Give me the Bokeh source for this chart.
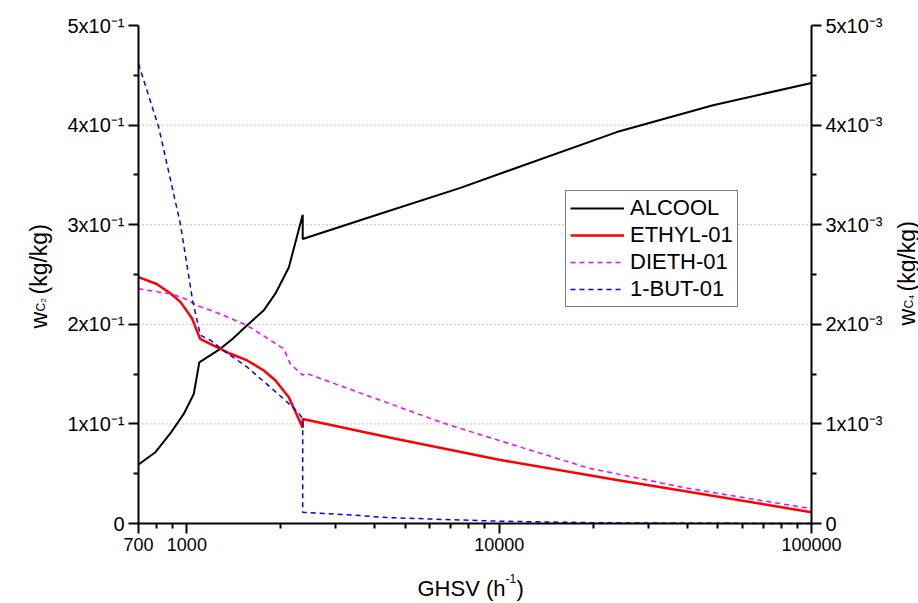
import math
from bokeh.plotting import figure
from bokeh.models import Range1d, LinearAxis, FixedTicker, Legend, LegendItem, Label
from bokeh.embed import file_html
from bokeh.resources import INLINE

# ---------------- data ----------------
ghsv_alcool = [700, 793, 885, 977, 1052, 1096, 1279, 1396, 1560, 1763, 1922, 2120, 2349, 2349, 4160, 7515, 23800, 48400, 100000]
w_alcool = [0.0592, 0.0716, 0.0904, 0.110, 0.130, 0.1617, 0.1754, 0.185, 0.199, 0.214, 0.231, 0.257, 0.310, 0.2857, 0.311, 0.337, 0.393, 0.420, 0.4423]

ghsv_ethyl = [700, 800, 885, 953, 989, 1040, 1102, 1379, 1560, 1763, 1922, 2120, 2349, 2349, 4571, 10000, 23560, 100000]
w_ethyl = [0.2473, 0.2405, 0.2312, 0.2225, 0.2155, 0.2055, 0.1854, 0.1704, 0.1637, 0.1536, 0.1436, 0.1268, 0.0961, 0.105, 0.0855, 0.064, 0.044, 0.0113]

ghsv_dieth = [700, 885, 989, 1078, 1197, 1315, 1560, 2043, 2142, 2349, 2400, 4140, 6640, 10000, 19300, 39600, 100000]
w_dieth = [0.2356, 0.2306, 0.2256, 0.2189, 0.2139, 0.2088, 0.1988, 0.1754, 0.1603, 0.149, 0.151, 0.124, 0.1007, 0.0833, 0.0557, 0.0357, 0.0147]

ghsv_but = [700, 812, 953, 1043, 1105, 1191, 1305, 1560, 1848, 2043, 2266, 2349, 2349, 3000, 3573, 4166, 6000, 10000, 20000, 40000, 100000]
w_but = [4.615e-3, 3.98e-3, 3.01e-3, 2.24e-3, 1.89e-3, 1.84e-3, 1.74e-3, 1.57e-3, 1.37e-3, 1.25e-3, 1.12e-3, 1.05e-3,
         0.113e-3, 0.095e-3, 0.080e-3, 0.063e-3, 0.045e-3, 0.023e-3, 0.008e-3, 0.002e-3, 0.0]

series_names = ["ALCOOL", "ETHYL-01", "DIETH-01", "1-BUT-01"]

x_ticks = [700, 1000, 10000, 100000]
x_tick_labels = ["700", "1000", "10000", "100000"]
x_minor = [800, 900, 2000, 3000, 4000, 5000, 6000, 7000, 8000, 9000,
           20000, 30000, 40000, 50000, 60000, 70000, 80000, 90000]
y_left_ticks = [0, 0.1, 0.2, 0.3, 0.4, 0.5]
y_left_labels = ["0", "1x10⁻¹", "2x10⁻¹", "3x10⁻¹", "4x10⁻¹", "5x10⁻¹"]
y_left_minor = [0.05, 0.15, 0.25, 0.35, 0.45]
y_right_ticks = [0, 0.001, 0.002, 0.003, 0.004, 0.005]
y_right_labels = ["0", "1x10⁻³", "2x10⁻³", "3x10⁻³", "4x10⁻³", "5x10⁻³"]
y_right_minor = [0.0005, 0.0015, 0.0025, 0.0035, 0.0045]
grid_ticks = [0.1, 0.2, 0.3, 0.4]

X_MIN, X_MAX = 700, 100000
Y_MIN, Y_MAX = 0.0, 0.5
Y2_MIN, Y2_MAX = 0.0, 0.005

# ---------------- layout ----------------
# the data area (axes box) in canvas pixels; the plotting frame covers the whole canvas
W, H = 918, 603
FL, FR, FT, FB = 138, 811, 25, 523
FONT = "Liberation Sans"

lx0, lx1 = math.log10(X_MIN), math.log10(X_MAX)
dpx = (lx1 - lx0) / (FR - FL)
x_lo = 10 ** (lx0 - FL * dpx)
x_hi = 10 ** (lx1 + (W - FR) * dpx)
dpy = (Y_MAX - Y_MIN) / (FB - FT)
y_lo = Y_MIN - (H - FB) * dpy
y_hi = Y_MAX + FT * dpy
k2 = (Y2_MAX - Y2_MIN) / (Y_MAX - Y_MIN)

p = figure(width=W, height=H, x_axis_type="log", title=None,
           x_range=Range1d(x_lo, x_hi), y_range=Range1d(y_lo, y_hi),
           output_backend="svg", toolbar_location=None,
           min_border_left=0, min_border_right=0, min_border_top=0, min_border_bottom=0)
p.min_border = 0
p.outline_line_color = None
p.background_fill_color = "white"
p.border_fill_color = "white"
p.xgrid.visible = False
p.ygrid.visible = False

p.extra_y_ranges = {"c4": Range1d(Y2_MIN + (y_lo - Y_MIN) * k2, Y2_MIN + (y_hi - Y_MIN) * k2)}


def style_axis(ax):
    ax.axis_line_width = 2
    ax.axis_line_color = "black"
    ax.major_tick_line_width = 2
    ax.minor_tick_line_width = 2
    ax.major_tick_out = 10
    ax.major_tick_in = 0
    ax.minor_tick_out = 5
    ax.minor_tick_in = 0
    ax.major_label_text_font = FONT
    ax.major_label_text_font_size = "20px"
    ax.major_label_text_color = "black"
    ax.major_label_standoff = 4


xa = p.below[0]
style_axis(xa)
xa.major_label_text_font_size = "18px"
xa.fixed_location = Y_MIN
xa.bounds = (X_MIN, X_MAX)
xa.ticker = FixedTicker(ticks=x_ticks, minor_ticks=x_minor)
xa.major_label_overrides = dict(zip(x_ticks, x_tick_labels))

ya = p.left[0]
style_axis(ya)
ya.fixed_location = X_MIN
ya.bounds = (Y_MIN, Y_MAX)
ya.ticker = FixedTicker(ticks=y_left_ticks, minor_ticks=y_left_minor)
ya.major_label_overrides = dict(zip(y_left_ticks, y_left_labels))

yr = LinearAxis(y_range_name="c4")
style_axis(yr)
yr.fixed_location = X_MAX
yr.bounds = (Y2_MIN, Y2_MAX)
yr.ticker = FixedTicker(ticks=y_right_ticks, minor_ticks=y_right_minor)
yr.major_label_overrides = dict(zip(y_right_ticks, y_right_labels))
p.add_layout(yr, "right")

# dotted horizontal grid lines, only across the axes box
p.segment(x0=X_MIN, x1=X_MAX, y0=grid_ticks, y1=grid_ticks,
          line_color="#8c8c8c", line_width=1, line_dash="1 3")

# ---------------- lines ----------------
r1 = p.line(ghsv_alcool, w_alcool, line_color="black", line_width=2)
r2 = p.line(ghsv_ethyl, w_ethyl, line_color="#ff0000", line_width=2.5)
r3 = p.line(ghsv_dieth, w_dieth, line_color="#ff00ff", line_width=1.5, line_dash="5 4")
r4 = p.line(ghsv_but, w_but, line_color="#0000ff", line_width=1.5, line_dash="5 4", y_range_name="c4")

legend = Legend(items=[LegendItem(label=n, renderers=[r]) for n, r in zip(series_names, [r1, r2, r3, r4])],
                location=(565, H - 307))
legend.label_text_font = FONT
legend.label_text_font_size = "22px"
legend.label_text_color = "black"
legend.border_line_color = "black"
legend.border_line_width = 1
legend.background_fill_alpha = 1
legend.padding = 4
legend.spacing = 1
legend.margin = 0
legend.label_standoff = 6
legend.glyph_width = 54
legend.glyph_height = 26
legend.label_height = 26
p.add_layout(legend)


# ---------------- axis titles (text annotations placed by canvas pixel) ----------------
def xd(px):
    return 10 ** (math.log10(x_lo) + px * dpx)


def yd(py):
    return y_hi - py * dpy


def lab(px, py, text, size, angle=0.0):
    p.add_layout(Label(x=xd(px), y=yd(py), text=text, angle=angle,
                       text_font=FONT, text_font_size=f"{size}px", text_color="black",
                       text_align="left", text_baseline="alphabetic"))


# x title: GHSV (h^-1)
lab(417, 588, "GHSV (h", 22)
lab(505, 578, "-1", 12)
lab(516, 588, ")", 22)

# left y title: w_C2 (kg/kg)
a = math.pi / 2
lab(38, 328, "w", 23, a)
lab(40, 311, "C", 12, a)
lab(43, 302, "2", 8, a)
lab(38, 294, "(kg/kg)", 23, a)

# right y title: w_C4 (kg/kg)
lab(906, 325, "w", 23, a)
lab(908, 308, "C", 12, a)
lab(911, 299, "4", 8, a)
lab(906, 291, "(kg/kg)", 23, a)

open("out.html", "w").write(file_html(p, INLINE))
